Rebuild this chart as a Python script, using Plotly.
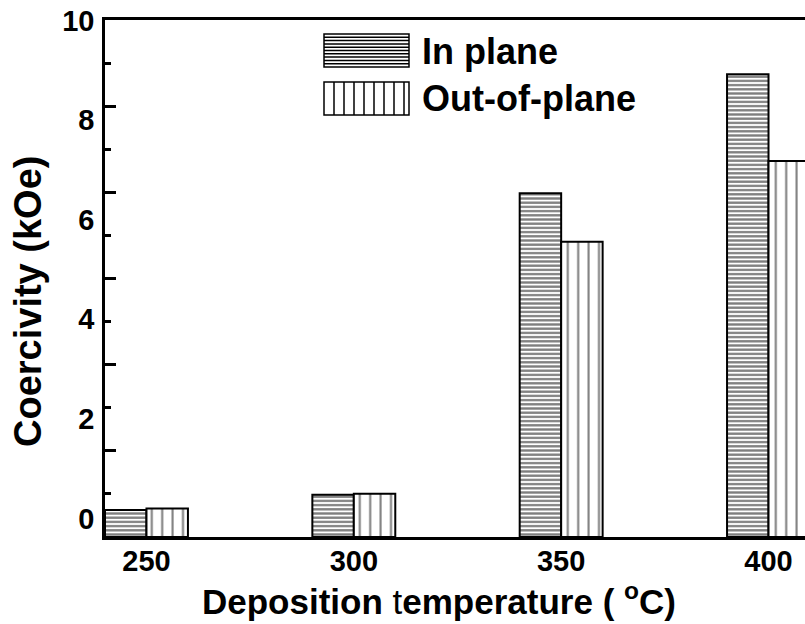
import numpy as np
import plotly.graph_objects as go

# Coercivity of films vs. deposition temperature
TEMPS = [250, 300, 350, 400]
TEMP_LABELS = ["250", "300", "350", "400"]
IN_PLANE = [0.17, 0.48, 6.53, 8.92]       # kOe
OUT_OF_PLANE = [0.20, 0.50, 5.56, 7.18]   # kOe
Y_LABEL_VALUES = [0, 2, 4, 6, 8, 10]
Y_LABEL_TEXT = ["0", "2", "4", "6", "8", "10"]

Y_MIN, Y_MAX = -0.37, 10.01
X_MIN, X_MAX = 240.0, 408.8
BAR_W = 10

W, H = 805, 624
ML, MR, MT, MB = 105, 0, 20, 87
PW, PH = W - ML - MR, H - MT - MB
FONT = "Liberation Sans, Arial, Helvetica, sans-serif"


def px(x):
    return (x - ML) / PW


def py(y):
    return (MT + PH - y) / PH


fig = go.Figure()

fig.add_trace(go.Bar(
    name="In plane",
    x=TEMPS,
    y=[v - Y_MIN for v in IN_PLANE],
    base=Y_MIN,
    width=BAR_W,
    offset=-BAR_W,
    marker=dict(
        color="white",
        line=dict(color="black", width=2),
        pattern=dict(shape="-", size=4.2, solidity=0.55, fgcolor="black", bgcolor="white"),
    ),
    showlegend=False,
))
fig.add_trace(go.Bar(
    name="Out-of-plane",
    x=TEMPS,
    y=[v - Y_MIN for v in OUT_OF_PLANE],
    base=Y_MIN,
    width=BAR_W,
    offset=0,
    marker=dict(
        color="white",
        line=dict(color="black", width=2),
        pattern=dict(shape="|", size=10.4, solidity=0.2, fgcolor="black", bgcolor="white"),
    ),
    showlegend=False,
))

# tick marks divide the axis span into twelve equal steps
tick_pos = np.linspace(Y_MIN, Y_MAX, 13)
major_pos = list(tick_pos[::2])
minor_pos = list(tick_pos[1::2])

fig.update_layout(
    width=W,
    height=H,
    margin=dict(l=ML, r=MR, t=MT, b=MB, pad=0),
    plot_bgcolor="white",
    paper_bgcolor="white",
    barmode="overlay",
    font=dict(family=FONT, color="black"),
    xaxis=dict(
        range=[X_MIN, X_MAX],
        tickmode="array",
        tickvals=TEMPS,
        ticktext=TEMP_LABELS,
        ticks="",
        ticklen=0,
        tickfont=dict(size=29, family=FONT, weight="bold"),
        ticklabelstandoff=-4,
        showline=True,
        linecolor="black",
        linewidth=2.5,
        mirror=True,
        showgrid=False,
        zeroline=False,
    ),
    yaxis=dict(
        range=[Y_MIN, Y_MAX],
        tickmode="array",
        tickvals=Y_LABEL_VALUES,
        ticktext=Y_LABEL_TEXT,
        ticks="",
        ticklen=0,
        tickfont=dict(size=29, family=FONT, weight="bold"),
        ticklabelstandoff=2,
        showline=True,
        linecolor="black",
        linewidth=2.5,
        mirror=False,
        showgrid=False,
        zeroline=False,
    ),
    yaxis2=dict(
        overlaying="y",
        anchor="x",
        side="left",
        range=[Y_MIN, Y_MAX],
        tickmode="array",
        tickvals=major_pos,
        ticks="inside",
        ticklen=11,
        tickwidth=2.5,
        tickcolor="black",
        showticklabels=False,
        showline=False,
        showgrid=False,
        zeroline=False,
        minor=dict(
            tickmode="array",
            tickvals=minor_pos,
            ticks="inside",
            ticklen=6,
            tickwidth=2.5,
            tickcolor="black",
            showgrid=False,
        ),
    ),
)

# hidden trace so the tick-mark axis is rendered
fig.add_trace(go.Scatter(x=[X_MIN], y=[Y_MIN], yaxis="y2", mode="markers",
                         marker=dict(opacity=0), hoverinfo="skip", showlegend=False))

# axis titles
fig.add_annotation(
    xref="paper", yref="paper", x=px(439), y=py(623),
    xanchor="center", yanchor="bottom", showarrow=False,
    text="<b>Deposition</b> t<b>emperature ( <sup>o</sup>C)</b>",
    font=dict(size=35, family=FONT, color="black"),
)
fig.add_annotation(
    xref="paper", yref="paper", x=px(28), y=py(302),
    xanchor="center", yanchor="middle", showarrow=False, textangle=-90,
    text="<b>Coercivity (kOe)</b>",
    font=dict(size=38, family=FONT, color="black"),
)

# legend: hatched swatches and labels
shapes = []
sw_x0, sw_x1 = 324, 409
in_y0, in_y1 = 34, 67
out_y0, out_y1 = 82, 115
for yy in np.arange(in_y0 + 3.3, in_y1 - 1, 3.3):
    shapes.append(dict(type="line", xref="paper", yref="paper",
                       x0=px(sw_x0), x1=px(sw_x1), y0=py(yy), y1=py(yy),
                       line=dict(color="black", width=1.5)))
for xx in np.arange(sw_x0 + 10, sw_x1 - 2, 10):
    shapes.append(dict(type="line", xref="paper", yref="paper",
                       x0=px(xx), x1=px(xx), y0=py(out_y0), y1=py(out_y1),
                       line=dict(color="black", width=1.5)))
for y0, y1 in [(in_y0, in_y1), (out_y0, out_y1)]:
    shapes.append(dict(type="rect", xref="paper", yref="paper",
                       x0=px(sw_x0), x1=px(sw_x1), y0=py(y0), y1=py(y1),
                       line=dict(color="black", width=1.5), fillcolor="rgba(0,0,0,0)"))
fig.update_layout(shapes=shapes)

for label, yc in [("In plane", 51), ("Out-of-plane", 99)]:
    fig.add_annotation(
        xref="paper", yref="paper", x=px(420), y=py(yc),
        xanchor="left", yanchor="middle", showarrow=False,
        text="<b>" + label + "</b>",
        font=dict(size=36, family=FONT, color="black"),
    )

fig.write_html("out.html")
